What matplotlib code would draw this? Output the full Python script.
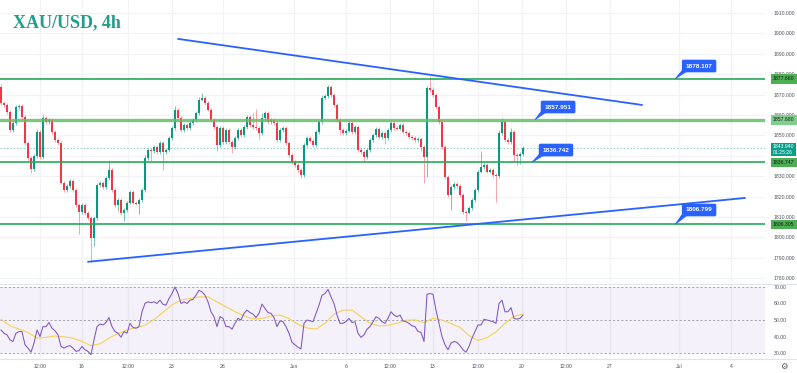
import matplotlib
matplotlib.use("Agg")
import matplotlib.pyplot as plt
from matplotlib.patches import Polygon
from matplotlib.transforms import blended_transform_factory
import numpy as np

# ---------------- data ----------------
first_open = 1873.7
closes = [
    1865.9, 1864.9, 1861.5, 1852.6, 1856.1, 1863.9, 1864.4, 1859.0, 1846.3, 1838.9,
    1833.5, 1839.9, 1851.7, 1839.4, 1858.5, 1856.6, 1857.5, 1851.7, 1847.7, 1846.3,
    1826.7, 1823.2, 1825.2, 1827.6, 1823.2, 1815.9, 1812.4, 1815.9, 1811.9, 1809.5,
    1799.7, 1809.5, 1825.7, 1826.7, 1824.7, 1829.1, 1833.0, 1823.2, 1815.9, 1818.3,
    1811.9, 1813.4, 1816.9, 1822.3, 1816.9, 1816.5, 1818.3, 1823.2, 1838.9, 1842.8,
    1842.3, 1844.3, 1841.9, 1846.3, 1841.9, 1842.8, 1848.7, 1853.6, 1862.5, 1858.5,
    1852.6, 1855.1, 1853.6, 1856.1, 1857.5, 1861.0, 1867.4, 1868.3, 1865.9, 1862.5,
    1857.5, 1854.1, 1845.3, 1853.6, 1846.8, 1852.6, 1846.8, 1844.3, 1848.7, 1852.6,
    1850.2, 1854.1, 1859.0, 1855.1, 1854.1, 1853.6, 1851.2, 1858.5, 1861.0, 1856.6,
    1857.5, 1856.1, 1847.7, 1852.6, 1853.6, 1846.3, 1840.4, 1836.9, 1835.5, 1833.0,
    1830.6, 1845.3, 1848.7, 1847.3, 1845.3, 1851.7, 1856.6, 1868.3, 1869.3, 1873.7,
    1869.8, 1864.9, 1857.5, 1852.6, 1851.2, 1852.2, 1856.1, 1851.7, 1854.1, 1842.8,
    1841.9, 1839.4, 1842.8, 1847.7, 1850.2, 1853.1, 1849.2, 1851.2, 1848.7, 1852.6,
    1856.1, 1853.6, 1853.2, 1855.1, 1851.7, 1851.2, 1849.2, 1848.7, 1847.7, 1848.2,
    1844.3, 1839.4, 1873.2, 1872.3, 1869.8, 1863.9, 1856.6, 1844.3, 1829.6, 1820.8,
    1824.7, 1826.2, 1825.2, 1820.8, 1812.4, 1812.0, 1814.4, 1818.3, 1823.2, 1832.1,
    1834.5, 1835.5, 1832.1, 1833.0, 1830.6, 1830.1, 1851.2, 1856.6, 1847.7, 1846.8,
    1851.7, 1840.4, 1839.9, 1840.9, 1843.94,
]
upper_wick = [
    1.5, 0.8, 0.8, 0.8, 0.8, 0.8, 0.8, 0.8, 0.8, 0.8,
    0.8, 0.8, 1.5, 0.8, 1.5, 0.8, 0.8, 0.8, 0.8, 0.8,
    0.8, 0.8, 0.8, 0.8, 0.8, 0.8, 0.8, 0.8, 0.8, 0.8,
    0.8, 0.8, 0.8, 0.8, 0.8, 0.8, 5.0, 0.8, 0.8, 0.8,
    0.8, 0.8, 0.8, 0.8, 0.8, 0.8, 0.8, 0.8, 1.5, 0.8,
    0.8, 0.8, 0.8, 0.8, 0.8, 0.8, 0.8, 0.8, 2.0, 0.8,
    0.8, 0.8, 0.8, 0.8, 0.8, 0.8, 1.5, 2.5, 0.8, 0.8,
    0.8, 0.8, 0.8, 0.8, 0.8, 0.8, 0.8, 0.8, 0.8, 0.8,
    0.8, 0.8, 0.8, 0.8, 6.0, 9.0, 0.8, 2.5, 0.8, 0.8,
    0.8, 0.8, 0.8, 0.8, 0.8, 0.8, 0.8, 0.8, 0.8, 0.8,
    0.8, 0.8, 0.8, 0.8, 0.8, 0.8, 0.8, 1.5, 0.8, 1.0,
    0.8, 0.8, 0.8, 0.8, 0.8, 0.8, 0.8, 0.8, 0.8, 0.8,
    0.8, 0.8, 0.8, 0.8, 0.8, 0.8, 0.8, 0.8, 0.8, 0.8,
    0.8, 0.8, 0.8, 0.8, 0.8, 0.8, 0.8, 0.8, 0.8, 0.8,
    0.8, 0.8, 0.8, 6.0, 1.5, 0.8, 0.8, 0.8, 0.8, 0.8,
    0.8, 0.8, 0.8, 0.8, 0.8, 0.8, 0.8, 0.8, 0.8, 0.8,
    8.0, 0.8, 0.8, 0.8, 0.8, 0.8, 1.5, 2.0, 0.8, 0.8,
    2.0, 0.8, 0.8, 0.8, 0.8,
]
lower_wick = [
    0.8, 0.8, 0.8, 0.8, 0.8, 0.8, 0.8, 0.8, 0.8, 0.8,
    2.0, 0.8, 0.8, 0.8, 0.8, 0.8, 0.8, 0.8, 0.8, 0.8,
    0.8, 0.8, 0.8, 0.8, 0.8, 0.8, 11.0, 0.8, 0.8, 0.8,
    11.7, 4.0, 0.8, 0.8, 0.8, 0.8, 0.8, 0.8, 0.8, 3.0,
    0.8, 4.0, 0.8, 0.8, 0.8, 0.8, 5.0, 0.8, 0.8, 0.8,
    5.0, 0.8, 0.8, 0.8, 9.0, 0.8, 0.8, 0.8, 0.8, 0.8,
    0.8, 0.8, 0.8, 0.8, 0.8, 0.8, 0.8, 0.8, 0.8, 0.8,
    0.8, 0.8, 3.0, 0.8, 0.8, 0.8, 0.8, 3.0, 0.8, 0.8,
    0.8, 0.8, 0.8, 0.8, 0.8, 0.8, 3.0, 0.8, 0.8, 0.8,
    0.8, 0.8, 0.8, 0.8, 0.8, 0.8, 0.8, 0.8, 0.8, 0.8,
    1.5, 0.8, 0.8, 0.8, 0.8, 0.8, 0.8, 0.8, 0.8, 0.8,
    0.8, 0.8, 0.8, 2.0, 0.8, 0.8, 0.8, 0.8, 0.8, 0.8,
    0.8, 2.0, 0.8, 0.8, 0.8, 0.8, 0.8, 0.8, 3.0, 0.8,
    0.8, 0.8, 0.8, 0.8, 0.8, 0.8, 0.8, 0.8, 0.8, 0.8,
    2.0, 12.7, 9.8, 0.8, 0.8, 0.8, 0.8, 0.8, 0.8, 0.8,
    7.4, 0.8, 0.8, 0.8, 0.8, 4.0, 0.8, 0.8, 0.8, 0.8,
    0.8, 0.8, 0.8, 0.8, 0.8, 13.0, 0.8, 0.8, 0.8, 0.8,
    0.8, 3.0, 4.5, 4.0, 0.8,
]
rsi = [
    44, 42, 41, 38, 37, 42, 43, 43, 35, 33,
    30.5, 36, 44, 40, 46, 46, 48.5, 45, 43.5, 41,
    34, 33, 34, 34.5, 33, 31, 31.5, 34, 32, 31,
    29, 38, 46, 47.6, 47, 48.5, 51.5, 46, 43, 42,
    39.6, 43, 42, 48, 45.5, 45, 46, 55, 60, 61,
    60.5, 61, 60, 62, 59.5, 59, 63, 66, 70, 66,
    60, 61, 60, 62, 62.5, 65, 68, 67, 65, 61,
    55, 52, 46, 52, 51, 46, 46, 44.4, 48, 51,
    50, 54, 56, 54.5, 53.6, 51.5, 54, 59.6, 57, 54.5,
    54, 51.5, 46, 49.5, 49, 46, 42, 36.5, 35, 33.5,
    32.5, 48, 50, 49.5, 49, 54, 59, 65, 66, 68.5,
    64, 60, 53, 48, 48, 49, 51, 48.5, 49, 42,
    39.5, 41, 44.4, 46, 49, 52, 51, 49, 48, 51,
    55, 53, 52, 53, 49.5, 49, 48, 46.5, 46, 43,
    42.5, 37, 65.6, 66, 65.6, 56, 48, 40, 35, 32,
    36, 37, 36.5, 34.5, 32, 30.5, 34, 39, 43, 47,
    47, 50.4, 50, 49.5, 49, 48, 60, 62, 55, 55,
    57.5, 51, 50.5, 51, 53,
]
rsi_ma = [
    50.5, 46.5, 44.5, 42.5, 39.0, 39.5, 40.3, 39.8, 39.0, 37.0,
    34.5, 35.6, 39.0, 41.8, 44.0, 45.4, 46.8, 50.3, 54.6, 59.2,
    62.0, 63.0, 64.0, 64.0, 61.0, 58.0, 55.0, 52.5, 50.6, 51.0,
    52.4, 53.0, 50.8, 47.5, 45.2, 44.5, 48.0, 53.5, 56.0, 56.0,
    52.0, 48.0, 46.4, 46.8, 48.0, 49.9, 50.1, 48.4, 51.0, 50.0,
    47.9, 45.5, 40.6, 37.6, 39.3, 42.8, 48.0, 52.2, 53.6,
]
time_labels = ["12:00", "16", "12:00", "23", "26", "Jun", "6", "12:00",
               "13", "12:00", "20", "12:00", "27", "Jul", "4"]
level_prices = [1877.660, 1857.680, 1836.747, 1806.305]
callout_values = ["1878.107", "1857.951", "1836.742", "1806.799"]
last_price = 1843.940
countdown = "01:25:26"
price_ticks = [1780, 1790, 1800, 1810, 1820, 1830, 1840, 1850,
               1860, 1870, 1880, 1890, 1900, 1910]
rsi_ticks = [30, 40, 50, 60, 70]

# ---------------- layout ----------------
W, H = 797, 373
fig = plt.figure(figsize=(W / 100, H / 100), dpi=100)
fig.patch.set_facecolor("white")

ax = fig.add_axes([0, 1 - 283 / H, 765 / W, 283 / H])
axr = fig.add_axes([0, 1 - 358 / H, 765 / W, 74 / H])

X0, X1 = -1 / 3, 254.67
ax.set_xlim(X0, X1)
ax.set_ylim(1777.6, 1916.37)
axr.set_xlim(X0, X1)
axr.set_ylim(27.0, 71.8)

TEAL = "#089981"
RED = "#f23645"
GRID = "#f2f3f6"
TXT = "#50535e"
BLUE = "#2962ff"
FS = 3.7

n = len(closes)
idx = np.arange(n)
opens = [first_open] + closes[:-1]
o = np.array(opens)
c = np.array(closes)
hi = np.maximum(o, c) + np.array(upper_wick)
lo = np.minimum(o, c) - np.array(lower_wick)
up = c >= o

tick_pos = [13, 27, 42.3, 57, 74, 97.7, 115, 129.7, 144, 159,
            173.7, 188.3, 203, 226, 243.3]

# grids
for a in (ax, axr):
    for t in tick_pos:
        a.axvline(t, color=GRID, lw=0.9, zorder=0)
    for s in a.spines.values():
        s.set_visible(False)
for p in price_ticks:
    ax.axhline(p, color=GRID, lw=0.9, zorder=0)

# candles
wick_cols = [(0.03, 0.6, 0.5, 0.55) if u else (0.95, 0.21, 0.27, 0.45) for u in up]
ax.vlines(idx, lo, hi, colors=wick_cols, lw=0.7, zorder=2)
body_h = np.maximum(np.abs(c - o), 0.35)
ax.bar(idx, body_h, bottom=np.minimum(o, c), width=0.72,
       color=[TEAL if u else RED for u in up], linewidth=0, zorder=3)

# horizontal levels
for p in level_prices:
    if p == 1857.680:
        ax.axhline(p, color="#66bb6a", lw=2.4, alpha=0.85, zorder=4)
    else:
        ax.axhline(p, color="#22ab56", lw=1.2, zorder=4)

# current price dotted line
ax.axhline(last_price, color=TEAL, lw=0.6, ls=(0, (1.5, 2.5)), alpha=0.6, zorder=1)

# trend lines
ax.plot([59, 213.7], [1897.3, 1864.9], color=BLUE, lw=1.3, zorder=5, solid_capstyle="round")
ax.plot([29, 248], [1788.0, 1819.3], color=BLUE, lw=1.3, zorder=5, solid_capstyle="round")

# callouts
def callout(text, bx, by, tx, ty):
    px_x = 1 / 3.0
    px_y = 0.4902
    left = bx - 18 * px_x
    bottom = by - 5 * px_y
    tri = Polygon([[left + 1 * px_x, bottom + 0.5 * px_y],
                   [left + 7 * px_x, bottom + 0.5 * px_y],
                   [tx, ty]], closed=True, fc=BLUE, ec=BLUE, lw=0.5, zorder=6)
    ax.add_patch(tri)
    ax.text(bx, by, text, ha="center", va="center", fontsize=4.6,
            fontweight="bold", color="white", family="Liberation Sans", zorder=7,
            bbox=dict(boxstyle="round,pad=0.6,rounding_size=0.25", fc=BLUE, ec="none"))

callout(callout_values[0], 232.7, 1884.0, 224.7, level_prices[0])
callout(callout_values[1], 185.7, 1863.9, 178.0, level_prices[1])
callout(callout_values[2], 185.0, 1842.8, 177.0, level_prices[2])
callout(callout_values[3], 232.7, 1813.4, 224.7, level_prices[3])

# right price axis (1840 label is hidden under the live price tag in the reference)
ax.yaxis.tick_right()
ax.set_yticks(price_ticks)
ax.set_yticklabels(["" if p == 1840 else f"{p:.3f}" for p in price_ticks])
ax.tick_params(axis="y", length=0, pad=6.3, labelsize=FS, labelcolor=TXT)
for lbl in ax.get_yticklabels():
    lbl.set_family("Liberation Sans")
ax.set_xticks([])

tr = blended_transform_factory(ax.transAxes, ax.transData)
tag_cols = ["#4caf50", "#7fcf8a", "#4caf50", "#4caf50"]
for p, col in zip(level_prices, tag_cols):
    ax.text(1.0105, p, f"{p:.3f}", transform=tr, ha="left", va="center",
            fontsize=FS, color="#131722", family="Liberation Sans", zorder=10,
            clip_on=False,
            bbox=dict(boxstyle="square,pad=0.45", fc=col, ec="none"))
ax.text(1.0105, last_price - 0.9, f"{last_price:.3f}\n{countdown}", transform=tr,
        ha="left", va="center", fontsize=FS, color="white", family="Liberation Sans",
        zorder=11, clip_on=False, linespacing=1.15,
        bbox=dict(boxstyle="square,pad=0.3", fc="#0c9d88", ec="none"))

# RSI pane
axr.axhspan(30, 70, color="#7e57c2", alpha=0.08, lw=0, zorder=0)
for lv in (30, 50, 70):
    axr.axhline(lv, color="#9598a1", lw=0.6, ls=(0, (2.5, 2.5)), zorder=1)
axr.plot(idx, rsi, color="#7e57c2", lw=0.75, zorder=3)
axr.plot(np.arange(0, n, 3), rsi_ma, color="#f7d154", lw=0.8, zorder=2)
axr.yaxis.tick_right()
axr.set_yticks(rsi_ticks)
axr.set_yticklabels([f"{v:.2f}" for v in rsi_ticks])
axr.tick_params(axis="y", length=0, pad=6.3, labelsize=FS, labelcolor=TXT)
axr.set_xticks(tick_pos)
axr.set_xticklabels(time_labels)
axr.tick_params(axis="x", length=0, pad=4.5, labelsize=FS, labelcolor=TXT)
for lbl in axr.get_yticklabels() + axr.get_xticklabels():
    lbl.set_family("Liberation Sans")

# pane separators
fig.add_artist(plt.Line2D([0, 1], [1 - 283.5 / H, 1 - 283.5 / H], color="#e0e3eb", lw=0.8))
fig.add_artist(plt.Line2D([0, 1], [1 - 358.5 / H, 1 - 358.5 / H], color="#e0e3eb", lw=0.8))

# title
fig.text(13 / W, 1 - 27 / H, "XAU/USD, 4h", family="Liberation Serif", fontweight="bold",
         fontsize=13, color="#1f9e89", va="baseline", ha="left")

# settings gear
fig.text(784 / W, 1 - 366 / H, "\u2699", fontsize=6, color="#555555", ha="center",
         va="center", family="DejaVu Sans")

fig.savefig("out.png", dpi=100, facecolor="white")
